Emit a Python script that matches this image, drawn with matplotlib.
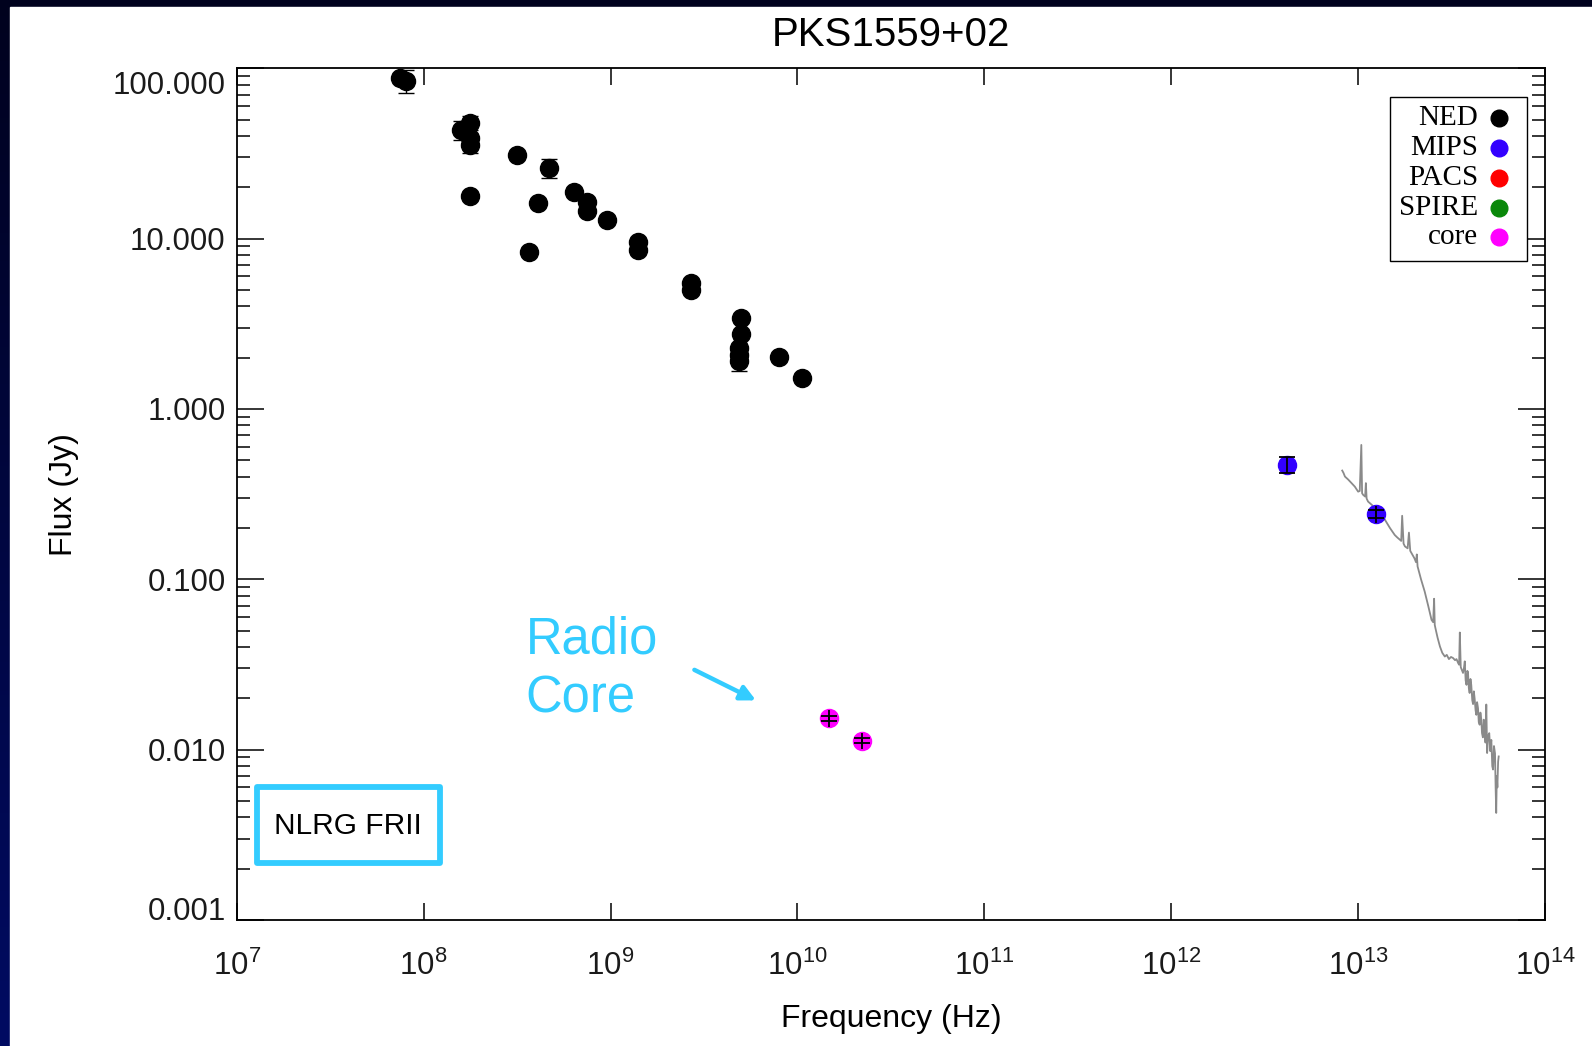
import numpy as np
import matplotlib
matplotlib.use('Agg')
import matplotlib.pyplot as plt
from matplotlib.patches import Rectangle
from matplotlib.colors import LinearSegmentedColormap
from matplotlib.ticker import LogLocator, FuncFormatter, NullLocator, FixedLocator
import matplotlib.transforms as mtransforms

plt.rcParams['font.family'] = ['Liberation Sans', 'DejaVu Sans']
plt.rcParams['mathtext.fontset'] = 'custom'
plt.rcParams['mathtext.rm'] = 'Liberation Sans'
plt.rcParams['mathtext.it'] = 'Liberation Sans:italic'

# ---------------- data ----------------
title = "PKS1559+02"

ned_freq = [7.45e7, 8.09e7, 1.59e8, 1.78e8, 1.78e8, 1.78e8, 1.78e8, 3.17e8, 4.68e8,
            4.08e8, 3.66e8, 6.34e8, 7.46e8, 7.46e8, 9.59e8, 1.40e9, 1.40e9, 2.70e9,
            2.70e9, 4.99e9, 4.99e9, 4.84e9, 4.84e9, 4.84e9, 7.98e9, 1.06e10]
ned_flux = [87.4, 84.2, 43.4, 48.0, 38.8, 35.5, 17.9, 31.0, 25.9,
            16.1, 8.39, 18.9, 16.5, 14.6, 12.9, 9.6, 8.58, 5.47,
            5.0, 3.41, 2.76, 2.27, 2.08, 1.90, 2.03, 1.53]
ned_err = [0, 13.0, 5.6, 4.7, 0, 3.8, 0, 0, 3.3,
           0, 0, 0, 0, 0, 0, 0, 0, 0,
           0, 0, 0, 0, 0, 0.22, 0, 0]

mips_freq = [4.15e12, 1.25e13]
mips_flux = [0.470, 0.242]
mips_err = [0.05, 0.012]
mips_err_sys = [0.0, 0.027]

core_freq = [1.48e10, 2.22e10]
core_flux = [0.0153, 0.01127]
core_err = [0.0005, 0.0004]
core_err_sys = [0.0017, 0.0012]

irs_freq = [8.22e12, 8.36e12, 8.50e12, 8.85e12, 9.22e12, 9.60e12, 1.00e13, 1.02e13, 1.04e13,
            1.05e13, 1.064e13, 1.09e13, 1.10e13, 1.11e13, 1.13e13, 1.19e13,
            1.25e13, 1.32e13, 1.39e13, 1.48e13, 1.57e13, 1.62e13, 1.67e13, 1.70e13, 1.72e13,
            1.75e13, 1.78e13, 1.84e13, 1.87e13, 1.90e13, 1.93e13, 2.00e13,
            2.04e13, 2.06e13, 2.08e13, 2.17e13, 2.27e13, 2.37e13, 2.47e13, 2.52e13, 2.55e13,
            2.57e13, 2.59e13, 2.66e13, 2.74e13, 2.82e13, 2.91e13, 2.98e13, 3.06e13, 3.14e13,
            3.22e13, 3.30e13, 3.36e13, 3.43e13, 3.47e13, 3.50e13, 3.54e13,
            3.64e13, 3.68e13, 3.72e13, 3.76e13, 3.80e13, 3.84e13, 3.87e13, 3.91e13, 3.95e13,
            3.99e13, 4.03e13, 4.08e13, 4.12e13, 4.16e13, 4.20e13, 4.25e13, 4.29e13, 4.33e13,
            4.38e13, 4.42e13, 4.47e13, 4.51e13, 4.56e13, 4.60e13, 4.65e13, 4.70e13, 4.75e13,
            4.80e13, 4.85e13, 4.90e13, 4.96e13, 5.03e13, 5.09e13, 5.16e13, 5.22e13, 5.27e13,
            5.33e13, 5.40e13, 5.44e13, 5.48e13, 5.52e13, 5.56e13, 5.61e13, 5.65e13]
irs_flux = [0.435, 0.420, 0.401, 0.385, 0.367, 0.350, 0.327, 0.330, 0.615,
            0.320, 0.313, 0.306, 0.367, 0.298, 0.286, 0.272,
            0.256, 0.240, 0.224, 0.200, 0.182, 0.176, 0.171, 0.168, 0.236,
            0.162, 0.156, 0.152, 0.188, 0.147, 0.1425, 0.133,
            0.126, 0.140, 0.119, 0.100, 0.0848, 0.0700, 0.0578, 0.0560, 0.0769,
            0.0540, 0.0518, 0.0455, 0.0403, 0.0370, 0.0352, 0.0360, 0.0340, 0.0350,
            0.0345, 0.0335, 0.0340, 0.0322, 0.0315, 0.0487, 0.0305,
            0.0282, 0.0300, 0.0330, 0.0255, 0.0240, 0.0290, 0.0285, 0.0230, 0.0215,
            0.0260, 0.0240, 0.0195, 0.0185, 0.0220, 0.0200, 0.0170, 0.0160, 0.0190,
            0.0175, 0.0145, 0.0140, 0.0165, 0.0150, 0.0125, 0.0118, 0.0150, 0.0135,
            0.0110, 0.0184, 0.00955, 0.0120, 0.0125, 0.0098, 0.0114, 0.0080, 0.00764,
            0.0105, 0.0095, 0.0060, 0.00425, 0.0070, 0.0060, 0.0085, 0.00912]

legend_labels = ["NED", "MIPS", "PACS", "SPIRE", "core"]
legend_colors = ["#000000", "#3300ff", "#ff0000", "#0a880a", "#ff00ff"]

x_decades = [7, 8, 9, 10, 11, 12, 13, 14]

# ---------------- figure ----------------
W, H = 1592, 1046
fig = plt.figure(figsize=(W / 100, H / 100), dpi=100)

bg = fig.add_axes([0, 0, 1, 1], zorder=-10)
grad = np.linspace(0, 1, 256).reshape(-1, 1)
cmap = LinearSegmentedColormap.from_list('bg', ['#00021e', '#000b62'])
bg.imshow(grad, aspect='auto', cmap=cmap, extent=[0, 1, 0, 1], origin='upper')
bg.add_patch(Rectangle((10 / W, 0), 1, 1 - 7 / H, color='white', transform=bg.transAxes))
bg.set_xlim(0, 1)
bg.set_ylim(0, 1)
bg.axis('off')

ax = fig.add_axes([0.1487, 0.1205, 0.8218, 0.8142])
ax.set_xscale('log')
ax.set_yscale('log')
ax.set_xlim(1e7, 1e14)
ax.set_ylim(1e-3, 1e2)

# IRS spectrum
ax.plot(irs_freq, irs_flux, color='#8a8a8a', lw=1.3, zorder=2)

# NED
ax.plot(ned_freq, ned_flux, 'o', color='black', ms=13, zorder=3)
nf = np.array(ned_freq); nfl = np.array(ned_flux); ne = np.array(ned_err)
m = ne > 0
ax.errorbar(nf[m], nfl[m], yerr=ne[m], fmt='none', ecolor='black', elinewidth=1.0,
            capsize=6, capthick=1.0, zorder=4)

# MIPS
ax.plot(mips_freq, mips_flux, 'o', color=legend_colors[1], ms=13, zorder=3)
ax.errorbar(mips_freq, mips_flux, yerr=mips_err, fmt='none', ecolor='black',
            elinewidth=1.3, capsize=6, capthick=1.3, zorder=4)
ax.errorbar(mips_freq, mips_flux, yerr=mips_err_sys, fmt='none', ecolor='black',
            elinewidth=1.3, capsize=0, zorder=4)

# core
ax.plot(core_freq, core_flux, 'o', color=legend_colors[4], ms=13, zorder=3)
ax.errorbar(core_freq, core_flux, yerr=core_err, fmt='none', ecolor='black',
            elinewidth=1.3, capsize=6, capthick=1.3, zorder=4)
ax.errorbar(core_freq, core_flux, yerr=core_err_sys, fmt='none', ecolor='black',
            elinewidth=1.3, capsize=0, zorder=4)

# ticks
ax.xaxis.set_major_locator(FixedLocator([10.0 ** d for d in x_decades]))
ax.xaxis.set_major_formatter(FuncFormatter(lambda v, p: r'$10^{%d}$' % int(round(np.log10(v)))))
ax.xaxis.set_minor_locator(NullLocator())
ax.yaxis.set_major_locator(LogLocator(base=10, numticks=20))
ax.yaxis.set_minor_locator(LogLocator(base=10, subs=np.arange(2, 10), numticks=20))
ax.yaxis.set_major_formatter(FuncFormatter(lambda v, p: '%.3f' % v))

ax.tick_params(axis='both', which='both', direction='in', top=True, right=True,
               colors='black', labelcolor='#1a1a1a')
ax.tick_params(axis='x', which='major', length=12, width=1.1, labelsize=22.5, pad=22)
ax.tick_params(axis='y', which='major', length=19.5, width=1.1, labelsize=22.5, pad=8)
ax.tick_params(axis='y', which='minor', length=9.5, width=1.1)
for s in ax.spines.values():
    s.set_linewidth(1.3)

ax.set_title(title, fontsize=29, pad=16)
ax.set_xlabel('Frequency (Hz)', fontsize=23, labelpad=16)
ax.set_ylabel('Flux (Jy)', fontsize=23, labelpad=24)

# legend (manual, right-aligned serif text with marker after)
lx0, lx1, ly0, ly1 = 0.8815, 0.9862, 0.7737, 0.9661
ax.add_patch(Rectangle((lx0, ly0), lx1 - lx0, ly1 - ly0, transform=ax.transAxes,
                       facecolor='white', edgecolor='black', lw=1.0, zorder=6))
leg_y = [0.9413, 0.906, 0.8708, 0.8363, 0.8015]
for lab, col, yy in zip(legend_labels, legend_colors, leg_y):
    ax.text(0.9488, yy, lab, transform=ax.transAxes, ha='right', va='center',
            fontsize=21, family=['Liberation Serif', 'DejaVu Serif'], zorder=7)
    ax.plot([0.9649], [yy], 'o', color=col, ms=12, transform=ax.transAxes,
            zorder=7, clip_on=False)

# NLRG FRII box
ax.add_patch(Rectangle((0.0153, 0.0673), 0.1401, 0.0892, transform=ax.transAxes,
                       facecolor='none', edgecolor='#33ccff', lw=4.2, zorder=5,
                       joinstyle='round'))
ax.text(0.0853, 0.1104, 'NLRG FRII', transform=ax.transAxes, ha='center', va='center',
        fontsize=21.5, color='black', zorder=6)

# Radio core annotation
ax.text(3.51e8, 0.0369, 'Radio', fontsize=36.5, color='#33ccff', ha='left', va='baseline')
ax.text(3.51e8, 0.01652, 'Core', fontsize=36.5, color='#33ccff', ha='left', va='baseline')
ax.annotate('', xy=(6.0e9, 0.01945), xytext=(2.81e9, 0.0294),
            arrowprops=dict(arrowstyle='-|>,head_length=0.9,head_width=0.45',
                            color='#33ccff', lw=3.2, shrinkA=0, shrinkB=0))

# shift the end labels inward like the original
fig.canvas.draw()
for tick in ax.yaxis.get_major_ticks():
    loc = tick.get_loc()
    if np.isclose(loc, 100.0):
        tick.label1.set_transform(tick.label1.get_transform() +
                                  mtransforms.ScaledTranslation(0, -14 / 100, fig.dpi_scale_trans))
    elif np.isclose(loc, 0.001):
        tick.label1.set_transform(tick.label1.get_transform() +
                                  mtransforms.ScaledTranslation(0, 11 / 100, fig.dpi_scale_trans))

fig.savefig('out.png', dpi=100)
